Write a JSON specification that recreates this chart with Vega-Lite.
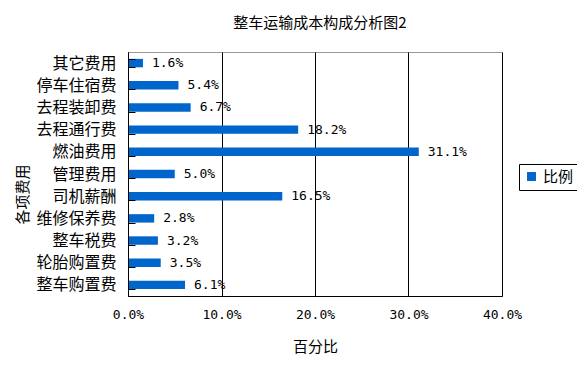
{
  "$schema": "https://vega.github.io/schema/vega-lite/v6.json",
  "width": 374,
  "height": 244,
  "autosize": {"type": "none"},
  "padding": {"left": 128, "top": 52, "right": 75, "bottom": 69},
  "background": "white",
  "title": {"text": "整车运输成本构成分析图2", "font": "Noto Sans CJK SC", "fontSize": 15, "fontWeight": "normal", "color": "black", "offset": 13, "anchor": "middle", "dx": 5},
  "data": {"values": [
    {"item": "其它费用", "value": 0.016, "series": "比例"},
    {"item": "停车住宿费", "value": 0.054, "series": "比例"},
    {"item": "去程装卸费", "value": 0.067, "series": "比例"},
    {"item": "去程通行费", "value": 0.182, "series": "比例"},
    {"item": "燃油费用", "value": 0.311, "series": "比例"},
    {"item": "管理费用", "value": 0.050, "series": "比例"},
    {"item": "司机薪酬", "value": 0.165, "series": "比例"},
    {"item": "维修保养费", "value": 0.028, "series": "比例"},
    {"item": "整车税费", "value": 0.032, "series": "比例"},
    {"item": "轮胎购置费", "value": 0.035, "series": "比例"},
    {"item": "整车购置费", "value": 0.061, "series": "比例"}
  ]},
  "encoding": {
    "y": {"field": "item", "type": "nominal", "sort": null,
      "scale": {"paddingInner": 0.62, "paddingOuter": 0.31},
      "axis": {"title": "各项费用", "titleFont": "Noto Sans CJK SC", "titleFontSize": 15, "titleFontWeight": "normal", "titleColor": "black", "titleX": -106, "titleY": 142, "titleAngle": -90, "titleAlign": "center", "titleBaseline": "middle",
        "labelFont": "Noto Sans CJK SC", "labelFontSize": 16, "labelColor": "black", "labelPadding": 19,
        "tickBand": "extent", "tickSize": -7, "tickColor": "black", "tickWidth": 1, "domainColor": "black", "grid": false, "zindex": 1}},
    "x": {"field": "value", "type": "quantitative",
      "scale": {"domain": [0, 0.4]},
      "axis": {"title": "百分比", "titleFont": "Noto Sans CJK SC", "titleFontSize": 15, "titleFontWeight": "normal", "titleColor": "black", "titlePadding": 18,
        "format": ".1%", "values": [0, 0.1, 0.2, 0.3, 0.4], "labelOverlap": false, "labelFlush": false,
        "labelFont": "DejaVu Sans Mono", "labelFontSize": 13, "labelColor": "black", "labelPadding": 12,
        "ticks": false, "domainColor": "black", "grid": true, "gridColor": "black", "gridOpacity": 1}}
  },
  "layer": [
    {"mark": {"type": "bar", "color": "#0066CC"},
     "encoding": {"color": {"field": "series", "type": "nominal", "scale": {"range": ["#0066CC"]},
       "legend": {"title": null, "orient": "none", "legendX": 391, "legendY": 112, "symbolType": "square", "symbolSize": 80,
         "strokeColor": "black", "padding": 5, "labelFont": "Noto Sans CJK SC", "labelFontSize": 15, "labelColor": "black", "symbolStrokeWidth": 0}}}},
    {"mark": {"type": "text", "align": "left", "dx": 9, "font": "DejaVu Sans Mono", "fontSize": 13, "color": "black"},
     "encoding": {"text": {"field": "value", "type": "quantitative", "format": ".1%"}}}
  ],
  "config": {"view": {"stroke": "#999999"}}
}
